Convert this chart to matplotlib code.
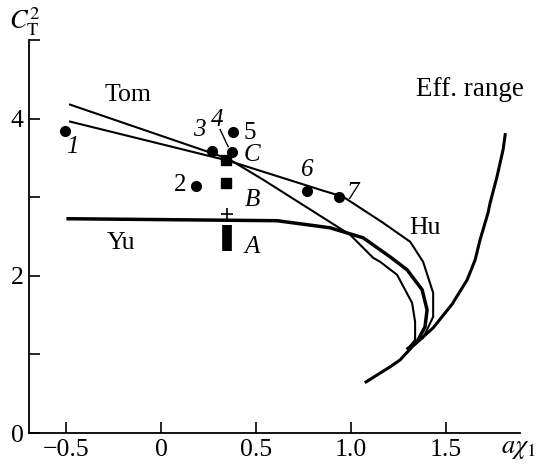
import numpy as np
import matplotlib
matplotlib.use("Agg")
import matplotlib.pyplot as plt

plt.rcParams['font.family'] = ['Liberation Serif', 'DejaVu Serif']
plt.rcParams['mathtext.fontset'] = 'stix'

# model curves: a*chi1 vs C_T^2
tom_x = [-0.479, 0.353, 0.537, 0.995, 1.116, 1.153, 1.242, 1.321, 1.337, 1.337, 1.300]
tom_y = [4.178, 3.490, 3.223, 2.522, 2.229, 2.178, 2.013, 1.656, 1.414, 1.185, 1.075]

hu_x = [-0.479, 0.353, 0.853, 0.958, 1.168, 1.311, 1.379, 1.432, 1.432, 1.379, 1.300]
hu_y = [3.962, 3.465, 3.083, 3.006, 2.675, 2.433, 2.178, 1.783, 1.478, 1.210, 1.075]

yu_x = [-0.489, 0.611, 0.889, 1.063, 1.205, 1.295, 1.374, 1.400, 1.389, 1.347, 1.300]
yu_y = [2.726, 2.701, 2.611, 2.484, 2.242, 2.076, 1.822, 1.567, 1.350, 1.159, 1.075]

eff_x = [1.079, 1.205, 1.258, 1.326, 1.432, 1.532, 1.611, 1.653, 1.679, 1.721, 1.732, 1.768, 1.800, 1.811]
eff_y = [0.650, 0.841, 0.930, 1.108, 1.338, 1.640, 1.949, 2.204, 2.459, 2.803, 2.930, 3.261, 3.605, 3.796]

# experimental points 1..7
pt_x = [-0.505, 0.184, 0.268, 0.374, 0.379, 0.768, 0.937]
pt_y = [3.847, 3.146, 3.592, 3.580, 3.834, 3.083, 3.006]
pt_lbl = ['1', '2', '3', '4', '5', '6', '7']
pt_lbl_x = [-0.468, 0.10, 0.20, 0.295, 0.468, 0.768, 1.01]
pt_lbl_y = [3.643, 3.159, 3.86, 3.987, 3.822, 3.35, 3.057]
pt_italic = [True, False, True, True, False, True, True]

# squares B, C and the range bar A
sq_x = [0.342, 0.342]
sq_y = [3.185, 3.478]
a_x = 0.347
a_lo, a_hi = 2.318, 2.650
plus_x, plus_y = 0.347, 2.79

fig = plt.figure(figsize=(5.45, 4.69), dpi=100)
ax = fig.add_axes([29/545, 1 - 433/469, 491/545, 393/469])

ax.plot(tom_x, tom_y, color='black', lw=1.5)
ax.plot(hu_x, hu_y, color='black', lw=1.5)
ax.plot(yu_x, yu_y, color='black', lw=2.5)
ax.plot(eff_x, eff_y, color='black', lw=2.2)

ax.plot(pt_x, pt_y, 'o', color='black', ms=7)
ax.plot(sq_x, sq_y, 's', color='black', ms=7)
ax.vlines([a_x], [a_lo], [a_hi], color='black', lw=7)
ax.plot([plus_x], [plus_y], '+', color='black', ms=8, mew=1.2)

for x, y, s, it in zip(pt_lbl_x, pt_lbl_y, pt_lbl, pt_italic):
    ax.text(x, y, s, fontsize=18, style='italic' if it else 'normal',
            ha='center', va='center')
ax.plot([0.311, 0.353], [3.86, 3.643], color='black', lw=1.0)

for s, y in zip(['C', 'B', 'A'], [3.541, 2.968, 2.369]):
    ax.text(0.479, y, s, fontsize=18, style='italic', ha='center', va='center')

ax.text(-0.174, 4.306, 'Tom', fontsize=18.5, ha='center', va='center')
ax.text(-0.21, 2.42, 'Yu', fontsize=18.5, ha='center', va='center')
ax.text(1.389, 2.611, 'Hu', fontsize=18.5, ha='center', va='center')
ax.text(1.626, 4.369, 'Eff. range', fontsize=19.5, ha='center', va='center')

ax.set_xlim(-0.695, 1.889)
ax.set_ylim(0, 5)
ax.set_xticks([-0.5, 0, 0.5, 1.0, 1.5])
ax.set_xticklabels(['\u22120.5', '0', '0.5', '1.0', '1.5'])
ax.set_yticks([0, 1, 2, 3, 4, 5])
ax.set_yticklabels(['0', '', '2', '', '4', ''])
ax.tick_params(direction='in', length=8, width=1.2, labelsize=18.5, pad=4)
for side in ['top', 'right']:
    ax.spines[side].set_visible(False)
for side in ['left', 'bottom']:
    ax.spines[side].set_linewidth(1.3)

fig.text(25/545, 1 - 22/469, r'$C_{\mathrm{T}}^{2}$', fontsize=19, ha='center', va='center')
fig.text(518/545, 1 - 450/469, r'$a\chi_1$', fontsize=19, ha='center', va='center')

fig.savefig('out.png', dpi=100)
